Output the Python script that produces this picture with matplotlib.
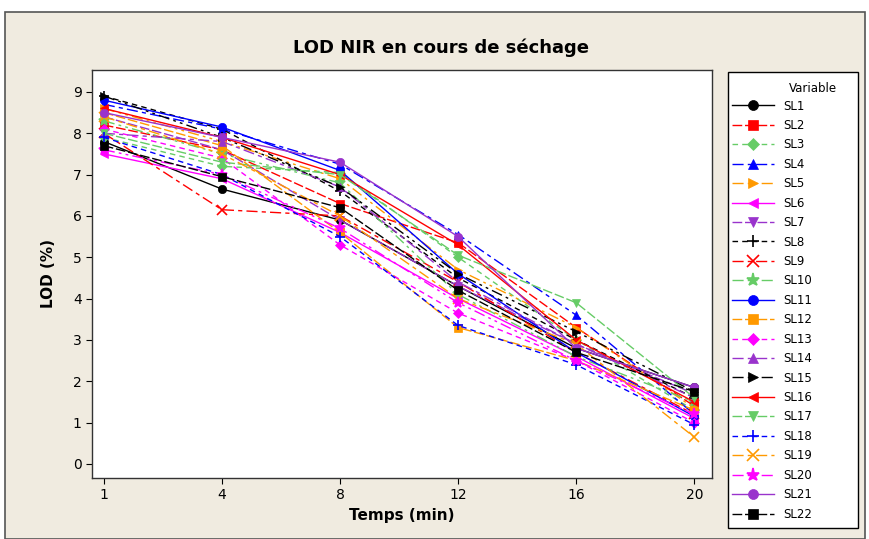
import matplotlib
matplotlib.use("Agg")
import matplotlib.pyplot as plt
from matplotlib.patches import Rectangle

times = ["1", "4", "8", "12", "16", "20"]
names = ["SL%d" % i for i in range(1, 23)]

SL1 = [7.8, 6.65, 5.9, 4.3, 2.8, 1.85]
SL2 = [8.2, 7.6, 6.3, 5.35, 3.3, 1.4]
SL3 = [7.9, 7.2, 7.05, 5.0, 3.0, 1.3]
SL4 = [8.7, 8.1, 7.25, 5.55, 3.6, 1.2]
SL5 = [8.6, 7.8, 6.9, 4.7, 3.3, 1.35]
SL6 = [7.5, 6.9, 5.6, 4.0, 2.6, 1.1]
SL7 = [8.4, 7.6, 5.9, 4.3, 2.9, 1.7]
SL8 = [8.9, 8.1, 6.6, 4.5, 3.0, 1.6]
SL9 = [8.0, 6.15, 6.0, 4.4, 2.7, 1.2]
SL10 = [8.3, 7.5, 6.8, 4.1, 2.6, 1.5]
SL11 = [8.8, 8.15, 7.1, 4.6, 2.7, 1.15]
SL12 = [8.5, 7.7, 5.6, 3.3, 2.5, 1.3]
SL13 = [8.1, 7.4, 5.3, 3.65, 2.5, 1.0]
SL14 = [8.0, 7.8, 6.7, 4.4, 2.9, 1.6]
SL15 = [8.9, 7.9, 6.7, 4.6, 3.2, 1.75]
SL16 = [8.6, 7.9, 7.0, 5.3, 3.0, 1.5]
SL17 = [8.0, 7.3, 7.0, 5.05, 3.9, 1.6]
SL18 = [7.9, 7.0, 5.5, 3.35, 2.4, 0.95]
SL19 = [8.4, 7.5, 6.0, 4.0, 2.9, 0.65]
SL20 = [7.6, 7.0, 5.7, 3.9, 2.5, 1.2]
SL21 = [8.5, 7.9, 7.3, 5.5, 2.8, 1.85]
SL22 = [7.7, 6.95, 6.2, 4.2, 2.7, 1.75]

series = [SL1, SL2, SL3, SL4, SL5, SL6, SL7, SL8, SL9, SL10, SL11,
          SL12, SL13, SL14, SL15, SL16, SL17, SL18, SL19, SL20, SL21, SL22]

colors = ["#000000", "#FF0000", "#66CC66", "#0000FF", "#FF9900", "#FF00FF", "#9933CC"]
markers = ["o", "s", "D", "^", ">", "<", "v", "+", "x", "*"]
styles = ["-", (0, (7, 2)), (0, (4, 3)), (0, (8, 3, 3, 3)), (0, (8, 3, 2, 3, 2, 3))]

fig = plt.figure(figsize=(8.69, 5.39), dpi=100)
fig.patch.set_facecolor("white")
fig.patches.append(Rectangle((5 / 869, 0), 1 - 9 / 869, 1 - 12 / 539,
                             transform=fig.transFigure, facecolor="#F0EBE0",
                             edgecolor="#555555", linewidth=1.2, zorder=-10))
# legend box
fig.patches.append(Rectangle((728 / 869, 1 - 528 / 539), 130 / 869, 456 / 539,
                             transform=fig.transFigure, facecolor="white",
                             edgecolor="black", linewidth=1.0, zorder=-5))

ax = fig.add_axes([92 / 869, 1 - 478 / 539, 620 / 869, 408 / 539])
ax.set_facecolor("white")
x = list(range(len(times)))
handles = []
for i, (name, vals) in enumerate(zip(names, series)):
    c = colors[i % 7]
    m = markers[i % 10]
    ls = styles[i % 5]
    ms = 6
    if m in ("+", "x"):
        ms = 7
    if m == "*":
        ms = 8
    if m == "D":
        ms = 5
    h, = ax.plot(x, vals, color=c, marker=m, linestyle=ls, linewidth=1.0,
                 markersize=ms, markeredgewidth=1.2 if m in ("+", "x", "*") else 0.5,
                 markeredgecolor=c, label=name)
    handles.append(h)

ax.set_xlim(-0.10, 5.15)
ax.set_ylim(-0.34, 9.53)
ax.set_xticks(x)
ax.set_xticklabels(times)
ax.set_yticks(range(0, 10))
ax.tick_params(axis="both", labelsize=10, direction="out", length=4)
for s in ax.spines.values():
    s.set_color("#333333")
    s.set_linewidth(1.0)
ax.set_xlabel("Temps (min)", fontsize=11, fontweight="bold", labelpad=4)
ax.set_ylabel("LOD (%)", fontsize=11, fontweight="bold", labelpad=12)

fig.text(0.507, 1 - 48 / 539, "LOD NIR en cours de séchage", ha="center", va="center",
         fontsize=13, fontweight="bold")
fig.text(789 / 869, 1 - 88 / 539, "Variable", ha="left", va="center", fontsize=8.5)

leg = fig.legend(handles=handles, loc="upper left", bbox_to_anchor=(728 / 869, 1 - 96 / 539),
                 fontsize=8.5, frameon=False, handlelength=3.6,
                 labelspacing=0.545, borderpad=0.3, handletextpad=0.8, borderaxespad=0,
                 markerscale=1.2)

fig.savefig("out.png", dpi=100, facecolor=fig.get_facecolor())
